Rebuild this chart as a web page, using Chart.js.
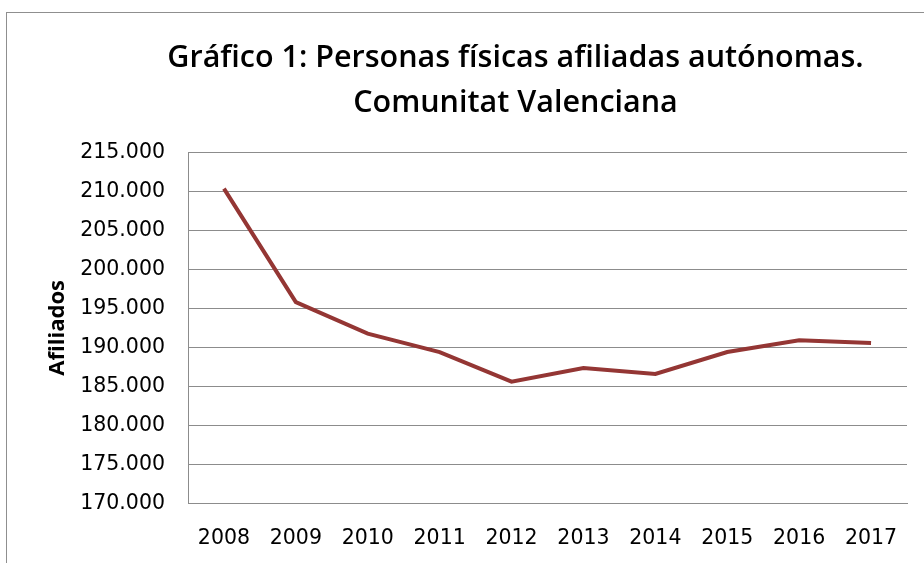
<!DOCTYPE html>
<html>
<head>
<meta charset="utf-8">
<script src="https://cdn.jsdelivr.net/npm/chart.js@4/dist/chart.umd.min.js"></script>
<style>
  html, body { margin: 0; padding: 0; background: #fff; overflow: hidden; }
  #frame {
    position: absolute; left: 6px; top: 12px;
    width: 1000px; height: 1000px;
    border: 1px solid #8f8f8f;
  }
  #wrap { position: absolute; left: 0; top: 0; width: 991px; height: 575px; }
</style>
</head>
<body>
<div id="frame"></div>
<div id="wrap"><canvas id="afiliadosChart"></canvas></div>
<script>
const years = ["2008", "2009", "2010", "2011", "2012", "2013", "2014", "2015", "2016", "2017"];
const afiliados = [210350, 195800, 191750, 189400, 185600, 187350, 186600, 189400, 190900, 190550];
const titleLines = ["Gráfico 1: Personas físicas afiliadas autónomas.", "Comunitat Valenciana"];

function formatMiles(v) {
  return String(v).replace(/\B(?=(\d{3})+(?!\d))/g, ".");
}

document.addEventListener("DOMContentLoaded", () => {
  const ctx = document.getElementById("afiliadosChart").getContext("2d");

  new Chart(ctx, {
    type: "line",
    data: {
      labels: years,
      datasets: [
        {
          label: "Afiliados",
          data: afiliados,
          borderColor: "#943634",
          backgroundColor: "#943634",
          borderWidth: 4,
          pointRadius: 0,
          tension: 0,
        },
      ],
    },
    options: {
      responsive: true,
      maintainAspectRatio: false,
      animation: false,
      layout: {
        padding: { left: 40, right: 0, top: 0, bottom: 1 },
      },
      plugins: {
        legend: { display: false },
        tooltip: { enabled: false },
        title: {
          display: true,
          text: titleLines,
          color: "#000",
          font: { family: "Open Sans", size: 30.5, weight: "600", lineHeight: 1.48 },
          padding: { top: 36, bottom: 26 },
        },
      },
      scales: {
        x: {
          offset: true,
          grid: { display: false, drawTicks: false },
          border: { display: true, color: "#8c8c8c", width: 1 },
          ticks: {
            color: "#000",
            padding: 23,
            font: { family: "DejaVu Sans", size: 20.5 },
            maxRotation: 0,
          },
        },
        y: {
          min: 170000,
          max: 215000,
          afterFit: (scale) => {
            scale.width = 148;
          },
          grid: { color: "#8c8c8c", lineWidth: 1, drawTicks: false },
          border: { display: true, color: "#8c8c8c", width: 1 },
          ticks: {
            stepSize: 5000,
            color: "#000",
            padding: 23,
            font: { family: "DejaVu Sans", size: 20.5 },
            callback: (v) => formatMiles(v),
          },
          title: {
            display: true,
            text: "Afiliados",
            color: "#000",
            font: { family: "Open Sans", size: 22, weight: "bold" },
            padding: { top: 5, bottom: 0 },
          },
        },
        // empty right-hand box so the centred title sits where it does in the original
        derecha: {
          position: "right",
          afterFit: (scale) => {
            scale.width = 84;
          },
          grid: { display: false, drawTicks: false },
          border: { display: false },
          ticks: { display: false },
        },
      },
    },
  });
});
</script>
</body>
</html>
